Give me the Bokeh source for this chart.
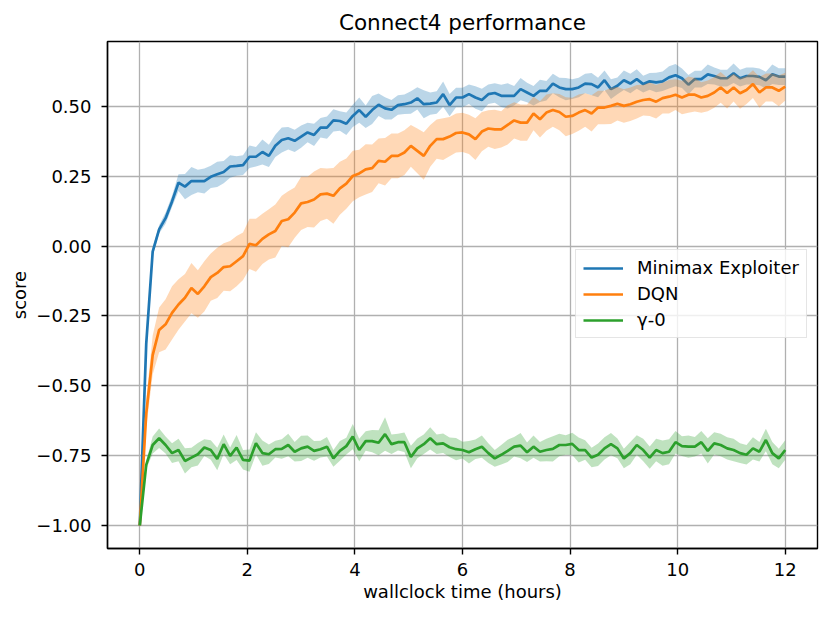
from bokeh.plotting import figure
from bokeh.models import Range1d, FixedTicker, CustomJSTickFormatter, Legend, LegendItem
from bokeh.embed import file_html
from bokeh.resources import INLINE

# ---------------- data ----------------
hours = [round(0.12 * i, 2) for i in range(101)]

minimax = [
    -1.0, -0.35, -0.02, 0.06, 0.10, 0.16, 0.227, 0.213, 0.233, 0.233, 0.233,
    0.248, 0.257, 0.265, 0.285, 0.287, 0.29, 0.32, 0.32, 0.337, 0.323,
    0.359, 0.38, 0.386, 0.377, 0.392, 0.407, 0.398, 0.424, 0.424, 0.45,
    0.448, 0.438, 0.466, 0.487, 0.463, 0.487, 0.506, 0.493, 0.488, 0.505,
    0.508, 0.514, 0.529, 0.508, 0.51, 0.514, 0.544, 0.505, 0.532, 0.532,
    0.544, 0.532, 0.523, 0.544, 0.548, 0.538, 0.538, 0.538, 0.562, 0.55,
    0.538, 0.556, 0.556, 0.582, 0.568, 0.562, 0.562, 0.568, 0.582, 0.58,
    0.568, 0.594, 0.562, 0.574, 0.594, 0.582, 0.598, 0.58, 0.59, 0.586,
    0.59, 0.604, 0.612, 0.601, 0.578, 0.598, 0.598, 0.615, 0.609, 0.601,
    0.601, 0.619, 0.601, 0.609, 0.609, 0.606, 0.594, 0.615, 0.607, 0.607,
]
minimax_spread = [
    0.0, 0.01, 0.015, 0.015, 0.02, 0.02, 0.03, 0.045, 0.05, 0.04, 0.045,
    0.04, 0.045, 0.04, 0.04, 0.035, 0.035, 0.04, 0.035, 0.045, 0.04,
    0.04, 0.045, 0.04, 0.04, 0.04, 0.035, 0.04, 0.035, 0.04, 0.04,
    0.035, 0.04, 0.04, 0.045, 0.04, 0.05, 0.04, 0.04, 0.035, 0.035,
    0.035, 0.04, 0.04, 0.05, 0.04, 0.04, 0.045, 0.04, 0.035, 0.035,
    0.035, 0.04, 0.04, 0.035, 0.035, 0.04, 0.045, 0.035, 0.04, 0.035,
    0.035, 0.04, 0.035, 0.035, 0.035, 0.04, 0.035, 0.035, 0.035, 0.04,
    0.035, 0.035, 0.035, 0.03, 0.035, 0.035, 0.035, 0.03, 0.03, 0.035,
    0.035, 0.04, 0.04, 0.035, 0.035, 0.03, 0.03, 0.035, 0.03, 0.03,
    0.03, 0.035, 0.03, 0.03, 0.03, 0.03, 0.03, 0.035, 0.03, 0.03,
]

dqn = [
    -1.0, -0.6, -0.39, -0.30, -0.28, -0.239, -0.209, -0.185, -0.15, -0.171, -0.144,
    -0.111, -0.096, -0.075, -0.072, -0.054, -0.036, 0.008, 0.003, 0.026, 0.042,
    0.054, 0.09, 0.096, 0.12, 0.153, 0.158, 0.167, 0.185, 0.188, 0.18,
    0.207, 0.224, 0.251, 0.26, 0.275, 0.279, 0.305, 0.302, 0.323, 0.323,
    0.335, 0.359, 0.341, 0.323, 0.359, 0.383, 0.383, 0.392, 0.405, 0.407,
    0.40, 0.383, 0.41, 0.421, 0.418, 0.418, 0.434, 0.45, 0.442, 0.442,
    0.475, 0.454, 0.478, 0.487, 0.48, 0.463, 0.466, 0.478, 0.487, 0.475,
    0.496, 0.496, 0.502, 0.51, 0.502, 0.508, 0.517, 0.523, 0.526, 0.517,
    0.53, 0.535, 0.542, 0.532, 0.542, 0.542, 0.532, 0.538, 0.55, 0.568,
    0.548, 0.568, 0.547, 0.559, 0.58, 0.55, 0.568, 0.568, 0.556, 0.571,
]
dqn_spread = [
    0.0, 0.05, 0.07, 0.08, 0.09, 0.095, 0.09, 0.085, 0.09, 0.085, 0.09,
    0.085, 0.09, 0.085, 0.09, 0.09, 0.085, 0.09, 0.095, 0.09, 0.09,
    0.095, 0.09, 0.1, 0.09, 0.095, 0.09, 0.1, 0.095, 0.09, 0.1,
    0.095, 0.09, 0.09, 0.085, 0.09, 0.085, 0.08, 0.085, 0.08, 0.08,
    0.08, 0.075, 0.08, 0.085, 0.075, 0.07, 0.075, 0.07, 0.07, 0.07,
    0.07, 0.075, 0.07, 0.065, 0.07, 0.065, 0.07, 0.065, 0.065, 0.065,
    0.06, 0.065, 0.065, 0.06, 0.065, 0.07, 0.065, 0.065, 0.06, 0.065,
    0.06, 0.06, 0.065, 0.06, 0.06, 0.06, 0.06, 0.055, 0.06, 0.06,
    0.055, 0.06, 0.055, 0.06, 0.065, 0.06, 0.055, 0.055, 0.055, 0.055,
    0.055, 0.05, 0.055, 0.05, 0.05, 0.055, 0.05, 0.05, 0.055, 0.05,
]

gamma0 = [
    -1.0, -0.783, -0.712, -0.688, -0.712, -0.741, -0.73, -0.769, -0.757, -0.745, -0.721,
    -0.73, -0.762, -0.709, -0.751, -0.721, -0.765, -0.768, -0.706, -0.741, -0.745,
    -0.727, -0.726, -0.712, -0.736, -0.724, -0.718, -0.733, -0.727, -0.718, -0.76,
    -0.733, -0.716, -0.682, -0.73, -0.698, -0.698, -0.704, -0.673, -0.709, -0.702,
    -0.702, -0.755, -0.724, -0.709, -0.688, -0.709, -0.706, -0.72, -0.727, -0.73,
    -0.738, -0.727, -0.718, -0.741, -0.76, -0.747, -0.733, -0.718, -0.714, -0.738,
    -0.718, -0.736, -0.73, -0.726, -0.712, -0.712, -0.708, -0.73, -0.73, -0.757,
    -0.747, -0.724, -0.709, -0.724, -0.76, -0.741, -0.712, -0.73, -0.757, -0.73,
    -0.741, -0.736, -0.702, -0.716, -0.718, -0.718, -0.702, -0.733, -0.706, -0.712,
    -0.724, -0.73, -0.741, -0.747, -0.724, -0.736, -0.694, -0.741, -0.76, -0.73,
]
gamma0_spread = [
    0.0, 0.015, 0.03, 0.035, 0.03, 0.035, 0.04, 0.045, 0.035, 0.04, 0.03,
    0.035, 0.04, 0.035, 0.03, 0.045, 0.035, 0.04, 0.04, 0.045, 0.035,
    0.03, 0.035, 0.04, 0.035, 0.045, 0.04, 0.035, 0.03, 0.035, 0.03,
    0.035, 0.03, 0.045, 0.04, 0.035, 0.04, 0.045, 0.06, 0.035, 0.03,
    0.035, 0.04, 0.035, 0.035, 0.04, 0.035, 0.035, 0.035, 0.04, 0.03,
    0.04, 0.035, 0.04, 0.035, 0.03, 0.035, 0.04, 0.035, 0.045, 0.035,
    0.04, 0.035, 0.04, 0.045, 0.04, 0.035, 0.04, 0.045, 0.035, 0.035,
    0.04, 0.04, 0.04, 0.035, 0.035, 0.04, 0.035, 0.04, 0.04, 0.04,
    0.045, 0.045, 0.04, 0.035, 0.04, 0.035, 0.04, 0.045, 0.04, 0.04,
    0.04, 0.04, 0.035, 0.035, 0.04, 0.035, 0.04, 0.04, 0.035, 0.035,
]

series_names = ["Minimax Exploiter", "DQN", "γ-0"]
x_ticks = [0, 2, 4, 6, 8, 10, 12]
y_ticks = [-1.0, -0.75, -0.5, -0.25, 0.0, 0.25, 0.5]

# ---------------- figure ----------------
FONT = "DejaVu Sans"
p = figure(width=823, height=612, output_backend="svg", toolbar_location=None,
           x_range=Range1d(-0.6, 12.6), y_range=Range1d(-1.0825, 0.7325),
           min_border_left=107, min_border_right=6, min_border_top=41,
           min_border_bottom=64, title="Connect4 performance")
p.background_fill_color = "white"
p.border_fill_color = "white"
p.outline_line_color = "black"
p.outline_line_width = 1.4

p.title.align = "center"
p.title.text_font = FONT
p.title.text_font_size = "21.5px"
p.title.text_font_style = "normal"
p.title.text_color = "black"
p.title.standoff = 14

for ax in (p.xaxis[0], p.yaxis[0]):
    ax.axis_label_text_font = FONT
    ax.axis_label_text_font_size = "18px"
    ax.axis_label_text_font_style = "normal"
    ax.axis_label_text_color = "black"
    ax.major_label_text_font = FONT
    ax.major_label_text_font_size = "18px"
    ax.major_label_text_color = "black"
    ax.axis_line_color = "black"
    ax.axis_line_width = 1.4
    ax.major_tick_line_color = "black"
    ax.major_tick_line_width = 1.4
    ax.major_tick_in = 0
    ax.major_tick_out = 6
    ax.minor_tick_line_color = None

p.xaxis.axis_label = "wallclock time (hours)"
p.yaxis.axis_label = "score"
p.xaxis.ticker = FixedTicker(ticks=x_ticks)
p.yaxis.ticker = FixedTicker(ticks=y_ticks)
p.yaxis.formatter = CustomJSTickFormatter(code="return tick.toFixed(2).replace('-', '\u2212');")
p.xaxis.major_label_standoff = 8
p.yaxis.major_label_standoff = 10
p.xaxis.axis_label_standoff = 2
p.yaxis.axis_label_standoff = 3

for g in (p.xgrid[0], p.ygrid[0]):
    g.grid_line_color = "#b0b0b0"
    g.grid_line_width = 1.3

colors = ["#1f77b4", "#ff7f0e", "#2ca02c"]
values = [minimax, dqn, gamma0]
spreads = [minimax_spread, dqn_spread, gamma0_spread]

renderers = []
for vals, spr, col in zip(values, spreads, colors):
    lo = [v - s for v, s in zip(vals, spr)]
    hi = [v + s for v, s in zip(vals, spr)]
    p.varea(x=hours, y1=lo, y2=hi, fill_color=col, fill_alpha=0.3)
    r = p.line(hours, vals, line_color=col, line_width=2.7)
    renderers.append(r)

legend = Legend(items=[LegendItem(label=n, renderers=[r]) for n, r in zip(series_names, renderers)],
                location=(468, 210))
legend.label_text_font = FONT
legend.label_text_font_size = "18px"
legend.label_text_color = "black"
legend.glyph_width = 40
legend.glyph_height = 20
legend.label_height = 20
legend.label_standoff = 14
legend.padding = 7
legend.spacing = 5
legend.margin = 0
legend.border_line_color = "#cccccc"
legend.border_line_width = 1
legend.background_fill_alpha = 0.8
p.add_layout(legend)

open("out.html", "w").write(file_html(p, INLINE))
